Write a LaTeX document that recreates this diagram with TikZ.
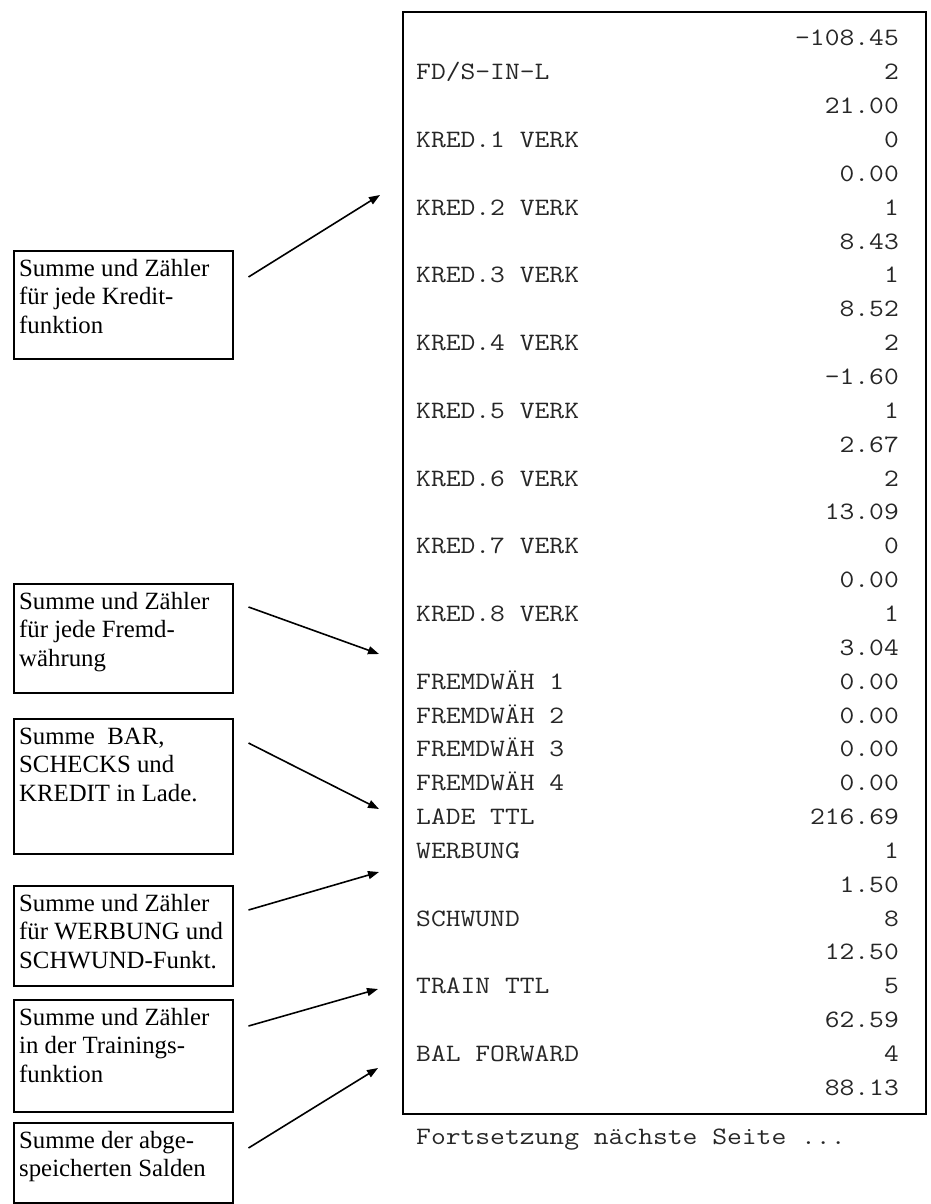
\documentclass[tikz,border=0pt]{standalone}
\usepackage{fontspec}
\setmainfont{Liberation Serif}
\setmonofont[FakeStretch=1.15]{Latin Modern Mono}
\usetikzlibrary{arrows.meta}
\begin{document}
\begin{tikzpicture}[x=1pt,y=-1pt,
  lbox/.style={draw, line width=1.5pt, minimum width=219pt, anchor=north west, inner sep=0pt},
  ltext/.style={anchor=north west, inner xsep=6pt, inner ysep=6pt, align=left,
                font=\fontsize{24.8}{28.5}\selectfont},
  rtxt/.style={font=\ttfamily\fontsize{25}{30}\selectfont, inner sep=0pt, text=black!85},
  conn/.style={line width=1.6pt, -{Triangle[length=11pt,width=8pt]}}]
\useasboundingbox (0,0) rectangle (931,1204);

% receipt frame
\node[draw, line width=2pt, minimum width=523pt, minimum height=1102pt,
      inner sep=0pt, anchor=north west] (receipt) at (402,11) {};

\foreach \i/\l/\r in {0//-108.45, 1/{FD/S-IN-L}/2, 2//21.00, 3/{KRED.1 VERK}/0, 4//0.00,
  5/{KRED.2 VERK}/1, 6//8.43, 7/{KRED.3 VERK}/1, 8//8.52, 9/{KRED.4 VERK}/2, 10//-1.60,
  11/{KRED.5 VERK}/1, 12//2.67, 13/{KRED.6 VERK}/2, 14//13.09, 15/{KRED.7 VERK}/0, 16//0.00,
  17/{KRED.8 VERK}/1, 18//3.04, 19/{FREMDWÄH 1}/0.00, 20/{FREMDWÄH 2}/0.00,
  21/{FREMDWÄH 3}/0.00, 22/{FREMDWÄH 4}/0.00, 23/{LADE TTL}/216.69, 24/WERBUNG/1,
  25//1.50, 26/SCHWUND/8, 27//12.50, 28/{TRAIN TTL}/5, 29//62.59, 30/{BAL FORWARD}/4,
  31//88.13}{
  \node[rtxt, anchor=base west] (l\i) at (416,{46+33.85*\i}) {\l};
  \node[rtxt, anchor=base east] (r\i) at (899,{46+33.85*\i}) {\r};
}
\node[rtxt, anchor=base west] (fort) at (416,1144) {Fortsetzung nächste Seite ...};

% left boxes
\node[lbox, minimum height=108pt] (b1) at (13,250) {};
\node[ltext] (t1) at (b1.north west) {\strut Summe und Zähler\\für jede Kredit-\\funktion};
\node[lbox, minimum height=109pt] (b2) at (13,583) {};
\node[ltext] (t2) at (b2.north west) {\strut Summe und Zähler\\für jede Fremd-\\währung};
\node[lbox, minimum height=135pt] (b3) at (13,718) {};
\node[ltext] (t3) at (b3.north west) {\strut Summe\ \ BAR,\\SCHECKS und\\KREDIT in Lade.};
\node[lbox, minimum height=100pt] (b4) at (13,885) {};
\node[ltext] (t4) at (b4.north west) {\strut Summe und Zähler\\für WERBUNG und\\SCHWUND-Funkt.};
\node[lbox, minimum height=112pt] (b5) at (13,999) {};
\node[ltext] (t5) at (b5.north west) {\strut Summe und Zähler\\in der Trainings-\\funktion};
\node[lbox, minimum height=80pt] (b6) at (13,1122) {};
\node[ltext] (t6) at (b6.north west) {\strut Summe der abge-\\speicherten Salden};

% arrow targets
\coordinate (e1) at (380,195);
\coordinate (e2) at (379,654);
\coordinate (e3) at (379,809);
\coordinate (e4) at (379,872);
\coordinate (e5) at (378,989);
\coordinate (e6) at (378,1068);

\draw[conn] ([shift={(15,27)}]b1.north east) -- (e1);
\draw[conn] ([shift={(15,24)}]b2.north east) -- (e2);
\draw[conn] ([shift={(15,25)}]b3.north east) -- (e3);
\draw[conn] ([shift={(15,25)}]b4.north east) -- (e4);
\draw[conn] ([shift={(15,27)}]b5.north east) -- (e5);
\draw[conn] ([shift={(15,26)}]b6.north east) -- (e6);
\end{tikzpicture}
\end{document}
